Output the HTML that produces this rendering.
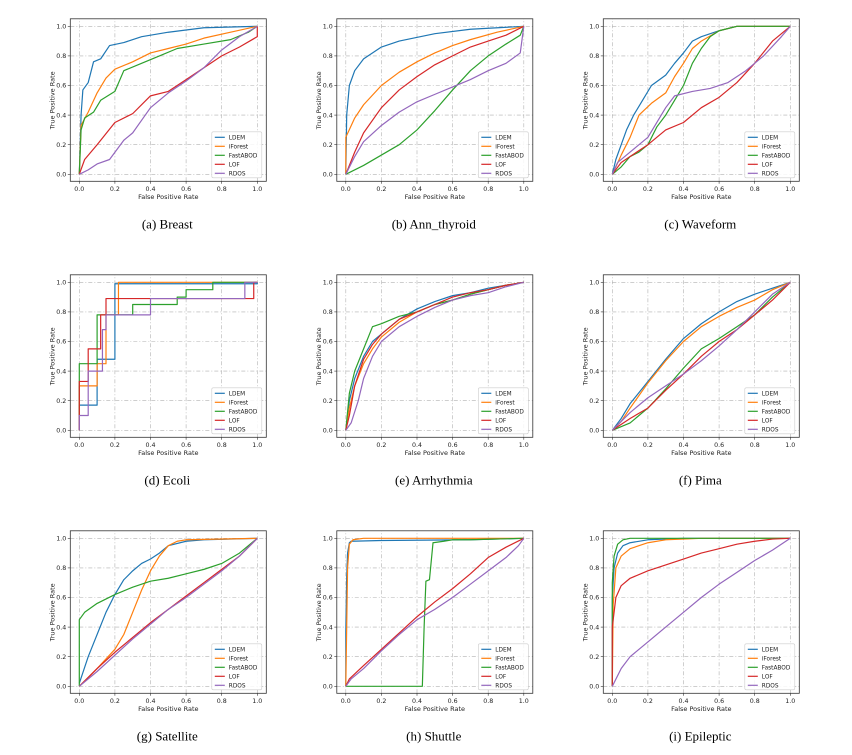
<!DOCTYPE html>
<html><head><meta charset="utf-8">
<style>
html,body{margin:0;padding:0;background:#fff;}
svg{display:block;font-family:"DejaVu Sans","Liberation Sans",sans-serif;}
.cap{font-family:"Liberation Serif",serif;font-size:13px;fill:#000;}
</style></head>
<body>
<svg id="fig" width="852" height="755" viewBox="0 0 852 755" xmlns="http://www.w3.org/2000/svg"></svg>
<script>
const seriesNames = ["LDEM","iForest","FastABOD","LOF","RDOS"];
const seriesColors = ["#1f77b4","#ff7f0e","#2ca02c","#d62728","#9467bd"];
const tickValues = [0,0.2,0.4,0.6,0.8,1.0];
const tickLabels = ["0.0","0.2","0.4","0.6","0.8","1.0"];
const panelCaptions = ["(a)  Breast","(b)  Ann_thyroid","(c)  Waveform","(d)  Ecoli","(e)  Arrhythmia","(f)  Pima","(g)  Satellite","(h)  Shuttle","(i)  Epileptic"];

const breastLDEM=[[0,0],[0.01,0.4],[0.02,0.57],[0.05,0.62],[0.08,0.76],[0.12,0.78],[0.17,0.87],[0.25,0.89],[0.35,0.93],[0.5,0.96],[0.7,0.99],[1,1]];
const breastIForest=[[0,0],[0.01,0.33],[0.05,0.42],[0.1,0.55],[0.15,0.65],[0.2,0.71],[0.3,0.76],[0.4,0.82],[0.5,0.85],[0.6,0.88],[0.7,0.92],[0.85,0.96],[1,1]];
const breastFastABOD=[[0,0],[0.01,0.3],[0.03,0.38],[0.08,0.42],[0.12,0.5],[0.2,0.56],[0.25,0.7],[0.35,0.75],[0.45,0.8],[0.55,0.85],[0.7,0.88],[0.85,0.91],[0.95,0.96],[1,1]];
const breastLOF=[[0,0],[0.03,0.1],[0.1,0.2],[0.2,0.35],[0.3,0.41],[0.4,0.53],[0.5,0.56],[0.6,0.64],[0.7,0.72],[0.8,0.8],[0.9,0.86],[1,0.93],[1,1]];
const breastRDOS=[[0,0],[0.05,0.03],[0.1,0.07],[0.17,0.1],[0.25,0.23],[0.3,0.28],[0.4,0.45],[0.5,0.55],[0.6,0.63],[0.7,0.72],[0.8,0.84],[0.9,0.93],[1,1]];

const annLDEM=[[0,0],[0.005,0.4],[0.02,0.6],[0.05,0.7],[0.1,0.78],[0.2,0.86],[0.3,0.9],[0.5,0.95],[0.7,0.98],[1,1]];
const annIForest=[[0,0],[0,0.25],[0.05,0.38],[0.1,0.47],[0.2,0.6],[0.3,0.69],[0.4,0.76],[0.5,0.82],[0.6,0.87],[0.7,0.91],[0.85,0.96],[1,1]];
const annFastABOD=[[0,0],[0.1,0.06],[0.2,0.13],[0.3,0.2],[0.4,0.3],[0.5,0.43],[0.6,0.57],[0.7,0.7],[0.8,0.8],[0.9,0.88],[0.98,0.94],[1,1]];
const annLOF=[[0,0],[0.05,0.15],[0.1,0.28],[0.2,0.45],[0.3,0.57],[0.4,0.66],[0.5,0.74],[0.6,0.8],[0.7,0.86],[0.8,0.9],[0.9,0.94],[1,1]];
const annRDOS=[[0,0],[0.05,0.12],[0.1,0.22],[0.2,0.33],[0.3,0.42],[0.4,0.49],[0.5,0.54],[0.6,0.59],[0.7,0.64],[0.8,0.7],[0.9,0.75],[0.98,0.82],[1,1]];

const waveLDEM=[[0,0],[0.02,0.1],[0.05,0.2],[0.08,0.3],[0.12,0.4],[0.17,0.5],[0.22,0.6],[0.3,0.67],[0.35,0.75],[0.4,0.82],[0.45,0.9],[0.5,0.93],[0.6,0.97],[0.7,1],[1,1]];
const waveIForest=[[0,0],[0.02,0.05],[0.05,0.13],[0.1,0.25],[0.15,0.4],[0.22,0.48],[0.3,0.55],[0.35,0.66],[0.4,0.75],[0.45,0.85],[0.5,0.9],[0.6,0.97],[0.7,1],[1,1]];
const waveFastABOD=[[0,0],[0.05,0.05],[0.1,0.12],[0.15,0.15],[0.2,0.2],[0.25,0.32],[0.3,0.4],[0.35,0.5],[0.4,0.6],[0.45,0.75],[0.5,0.85],[0.55,0.93],[0.6,0.97],[0.7,1],[1,1]];
const waveLOF=[[0,0],[0.05,0.08],[0.1,0.12],[0.2,0.2],[0.3,0.3],[0.4,0.35],[0.5,0.45],[0.6,0.52],[0.7,0.62],[0.8,0.75],[0.9,0.9],[1,1]];
const waveRDOS=[[0,0],[0.03,0.08],[0.1,0.15],[0.2,0.25],[0.3,0.45],[0.35,0.53],[0.45,0.56],[0.55,0.58],[0.65,0.62],[0.75,0.7],[0.85,0.8],[0.95,0.93],[1,1]];

const ecoliLDEM=[[0,0],[0,0.17],[0.1,0.17],[0.1,0.48],[0.2,0.48],[0.2,0.99],[1,0.99],[1,1]];
const ecoliIForest=[[0,0],[0,0.3],[0.1,0.3],[0.1,0.45],[0.15,0.45],[0.15,0.78],[0.22,0.78],[0.22,1],[1,1]];
const ecoliFastABOD=[[0,0],[0,0.45],[0.1,0.45],[0.1,0.78],[0.3,0.78],[0.3,0.85],[0.55,0.85],[0.55,0.9],[0.6,0.9],[0.6,0.95],[0.75,0.95],[0.75,1],[1,1]];
const ecoliLOF=[[0,0],[0,0.33],[0.05,0.33],[0.05,0.55],[0.12,0.55],[0.12,0.78],[0.15,0.78],[0.15,0.89],[0.98,0.89],[0.98,1],[1,1]];
const ecoliRDOS=[[0,0],[0,0.1],[0.05,0.1],[0.05,0.4],[0.13,0.4],[0.13,0.68],[0.15,0.68],[0.15,0.78],[0.4,0.78],[0.4,0.89],[0.93,0.89],[0.93,1],[1,1]];

const arrLDEM=[[0,0],[0.02,0.2],[0.05,0.35],[0.1,0.5],[0.15,0.6],[0.2,0.65],[0.3,0.75],[0.4,0.82],[0.5,0.87],[0.6,0.91],[0.7,0.93],[0.8,0.96],[0.9,0.98],[1,1]];
const arrIForest=[[0,0],[0.02,0.15],[0.05,0.3],[0.1,0.45],[0.15,0.55],[0.2,0.63],[0.3,0.73],[0.4,0.8],[0.5,0.85],[0.6,0.88],[0.7,0.92],[0.8,0.95],[0.9,0.98],[1,1]];
const arrFastABOD=[[0,0],[0.02,0.25],[0.05,0.4],[0.1,0.55],[0.15,0.7],[0.2,0.72],[0.3,0.77],[0.4,0.8],[0.5,0.85],[0.6,0.88],[0.7,0.92],[0.8,0.95],[0.9,0.98],[1,1]];
const arrLOF=[[0,0],[0.02,0.1],[0.05,0.3],[0.1,0.48],[0.15,0.58],[0.2,0.65],[0.3,0.75],[0.4,0.8],[0.5,0.85],[0.6,0.9],[0.7,0.93],[0.8,0.95],[0.9,0.98],[1,1]];
const arrRDOS=[[0,0],[0.03,0.05],[0.07,0.2],[0.1,0.35],[0.15,0.5],[0.2,0.6],[0.3,0.7],[0.4,0.77],[0.5,0.83],[0.6,0.88],[0.7,0.91],[0.8,0.93],[0.9,0.97],[1,1]];

const pimaLDEM=[[0,0],[0.05,0.08],[0.1,0.18],[0.2,0.33],[0.3,0.48],[0.4,0.62],[0.5,0.72],[0.6,0.8],[0.7,0.87],[0.8,0.92],[0.9,0.96],[1,1]];
const pimaIForest=[[0,0],[0.05,0.06],[0.1,0.15],[0.2,0.32],[0.3,0.47],[0.4,0.6],[0.5,0.7],[0.6,0.77],[0.7,0.83],[0.8,0.88],[0.9,0.95],[1,1]];
const pimaFastABOD=[[0,0],[0.1,0.05],[0.2,0.15],[0.3,0.28],[0.4,0.42],[0.5,0.55],[0.6,0.62],[0.7,0.7],[0.8,0.78],[0.9,0.9],[1,1]];
const pimaLOF=[[0,0],[0.1,0.08],[0.2,0.15],[0.3,0.27],[0.4,0.38],[0.5,0.5],[0.6,0.6],[0.7,0.68],[0.8,0.78],[0.9,0.88],[1,1]];
const pimaRDOS=[[0,0],[0.1,0.12],[0.2,0.22],[0.3,0.3],[0.4,0.38],[0.5,0.47],[0.6,0.57],[0.7,0.68],[0.8,0.8],[0.9,0.92],[1,1]];

const satLDEM=[[0,0.02],[0.05,0.2],[0.1,0.35],[0.15,0.5],[0.2,0.62],[0.25,0.72],[0.3,0.78],[0.35,0.83],[0.4,0.86],[0.45,0.9],[0.5,0.95],[0.6,0.98],[0.7,0.99],[1,1]];
const satIForest=[[0,0],[0.1,0.12],[0.2,0.25],[0.25,0.35],[0.3,0.5],[0.35,0.65],[0.4,0.78],[0.45,0.88],[0.5,0.95],[0.55,0.98],[0.6,0.99],[1,1]];
const satFastABOD=[[0,0],[0,0.45],[0.03,0.5],[0.1,0.56],[0.2,0.62],[0.3,0.67],[0.4,0.71],[0.5,0.73],[0.6,0.76],[0.7,0.79],[0.8,0.83],[0.9,0.9],[1,1]];
const satLOF=[[0,0],[0.1,0.12],[0.2,0.23],[0.3,0.33],[0.4,0.43],[0.5,0.52],[0.6,0.61],[0.7,0.7],[0.8,0.79],[0.9,0.88],[1,1]];
const satRDOS=[[0,0],[0.1,0.1],[0.2,0.21],[0.3,0.32],[0.4,0.42],[0.5,0.52],[0.6,0.6],[0.7,0.69],[0.8,0.78],[0.9,0.88],[1,1]];

const shutLDEM=[[0,0],[0,0.37],[0.005,0.74],[0.01,0.9],[0.02,0.97],[0.03,0.98],[0.2,0.985],[0.7,0.99],[1,1]];
const shutIForest=[[0,0],[0.005,0.4],[0.01,0.8],[0.02,0.96],[0.04,0.99],[0.1,1],[1,1]];
const shutFastABOD=[[0,0],[0.43,0],[0.44,0.4],[0.45,0.71],[0.47,0.72],[0.49,0.97],[0.55,0.98],[0.6,0.99],[0.7,0.99],[1,1]];
const shutLOF=[[0,0],[0.02,0.05],[0.1,0.14],[0.2,0.25],[0.3,0.36],[0.4,0.47],[0.5,0.57],[0.6,0.66],[0.7,0.76],[0.8,0.87],[0.9,0.94],[1,1]];
const shutRDOS=[[0,0],[0.03,0.05],[0.1,0.12],[0.2,0.24],[0.3,0.35],[0.4,0.45],[0.5,0.52],[0.6,0.6],[0.7,0.69],[0.8,0.78],[0.9,0.87],[0.97,0.95],[1,1]];

const epiLDEM=[[0,0],[0,0.6],[0.01,0.8],[0.03,0.9],[0.06,0.95],[0.1,0.97],[0.2,0.99],[0.4,1],[1,1]];
const epiIForest=[[0,0],[0.005,0.55],[0.02,0.8],[0.05,0.88],[0.1,0.93],[0.2,0.97],[0.3,0.99],[0.5,1],[1,1]];
const epiFastABOD=[[0,0],[0,0.7],[0.01,0.88],[0.03,0.96],[0.06,0.99],[0.1,1],[1,1]];
const epiLOF=[[0,0],[0,0.4],[0.02,0.6],[0.05,0.68],[0.1,0.73],[0.2,0.78],[0.3,0.82],[0.4,0.86],[0.5,0.9],[0.6,0.93],[0.7,0.96],[0.8,0.98],[0.9,0.995],[1,1]];
const epiRDOS=[[0,0],[0.05,0.12],[0.1,0.2],[0.2,0.3],[0.3,0.4],[0.4,0.5],[0.5,0.6],[0.6,0.69],[0.7,0.77],[0.8,0.85],[0.9,0.92],[1,1]];

const panelSeries=[
 [breastLDEM,breastIForest,breastFastABOD,breastLOF,breastRDOS],
 [annLDEM,annIForest,annFastABOD,annLOF,annRDOS],
 [waveLDEM,waveIForest,waveFastABOD,waveLOF,waveRDOS],
 [ecoliLDEM,ecoliIForest,ecoliFastABOD,ecoliLOF,ecoliRDOS],
 [arrLDEM,arrIForest,arrFastABOD,arrLOF,arrRDOS],
 [pimaLDEM,pimaIForest,pimaFastABOD,pimaLOF,pimaRDOS],
 [satLDEM,satIForest,satFastABOD,satLOF,satRDOS],
 [shutLDEM,shutIForest,shutFastABOD,shutLOF,shutRDOS],
 [epiLDEM,epiIForest,epiFastABOD,epiLOF,epiRDOS]
];

const NS="http://www.w3.org/2000/svg";
const svg=document.getElementById('fig');
function mk(tag,attrs,parent){const e=document.createElementNS(NS,tag);for(const k in attrs)e.setAttribute(k,attrs[k]);parent.appendChild(e);return e;}

const W=178,H=148;
panelSeries.forEach((series,pi)=>{
  const c=pi%3,r=Math.floor(pi/3);
  const ox=79.3+266.5*c, oy=174.3+256*r;
  const xs=v=>ox+v*W, ys=v=>oy-v*H;
  const g=mk('g',{},svg);
  
  
  // grid
  tickValues.forEach((t,i)=>{
    const gx=mk('line',{x1:xs(t),x2:xs(t),y1:oy+7,y2:oy-H-7.5,stroke:'#b0b0b0','stroke-width':0.6,'stroke-dasharray':'4 2 1 2'},g);
    
    
    const gy=mk('line',{x1:ox-9,x2:ox+W+9,y1:ys(t),y2:ys(t),stroke:'#b0b0b0','stroke-width':0.6,'stroke-dasharray':'4 2 1 2'},g);
    
    
    mk('line',{x1:xs(t),x2:xs(t),y1:oy+7,y2:oy+9.5,stroke:'#333','stroke-width':0.6},g);
    mk('line',{x1:ox-9,x2:ox-11.5,y1:ys(t),y2:ys(t),stroke:'#333','stroke-width':0.6},g);
    const tx=mk('text',{x:xs(t),y:oy+16.5,'font-size':6.3,'text-anchor':'middle',fill:'#222'},g);
    tx.textContent=tickLabels[i];
    
    
    const ty=mk('text',{x:ox-13,y:ys(t)+2.2,'font-size':6.3,'text-anchor':'end',fill:'#222'},g);
    ty.textContent=tickLabels[i];
    
    
  });
  // series
  series.forEach((pts,si)=>{
    const d=pts.map((p,k)=>(k?'L':'M')+xs(p[0]).toFixed(2)+' '+ys(p[1]).toFixed(2)).join(' ');
    const pl=mk('path',{d:d,fill:'none',stroke:seriesColors[si],'stroke-width':1.2,'stroke-linejoin':'round'},g);
    
    
  });
  // frame
  const fr=mk('rect',{x:ox-9,y:oy-H-7.5,width:W+18,height:H+14.5,fill:'none',stroke:'#333','stroke-width':0.8},g);
  
  
  // axis labels
  const xl=mk('text',{x:ox+W/2,y:oy+24.5,'font-size':6.5,'text-anchor':'middle',fill:'#222'},g);
  xl.textContent='False Positive Rate';
  
  
  const yl=mk('text',{x:0,y:0,'font-size':6.5,'text-anchor':'middle',fill:'#222',transform:'translate('+(ox-25)+','+(oy-H/2)+') rotate(-90)'},g);
  yl.textContent='True Positive Rate';
  
  
  // legend
  const lx=ox+W-45.5, ly=oy-42.5;
  const lg=mk('rect',{x:lx,y:ly,width:50,height:46,fill:'#fff','fill-opacity':0.85,stroke:'#ccc','stroke-width':0.6,rx:1.5},g);
  
  
  seriesNames.forEach((n,si)=>{
    const yy=ly+5.5+si*9;
    mk('line',{x1:lx+3,x2:lx+13,y1:yy,y2:yy,stroke:seriesColors[si],'stroke-width':1.2},g);
    const lt=mk('text',{x:lx+17,y:yy+2.1,'font-size':5.8,fill:'#222'},g);
    lt.textContent=n;
    
    
  });
  const cap=mk('text',{x:ox+W/2-1,y:oy+54,'text-anchor':'middle','class':'cap'},g);
  cap.textContent=panelCaptions[pi];
  
  
});
</script>
</body></html>
